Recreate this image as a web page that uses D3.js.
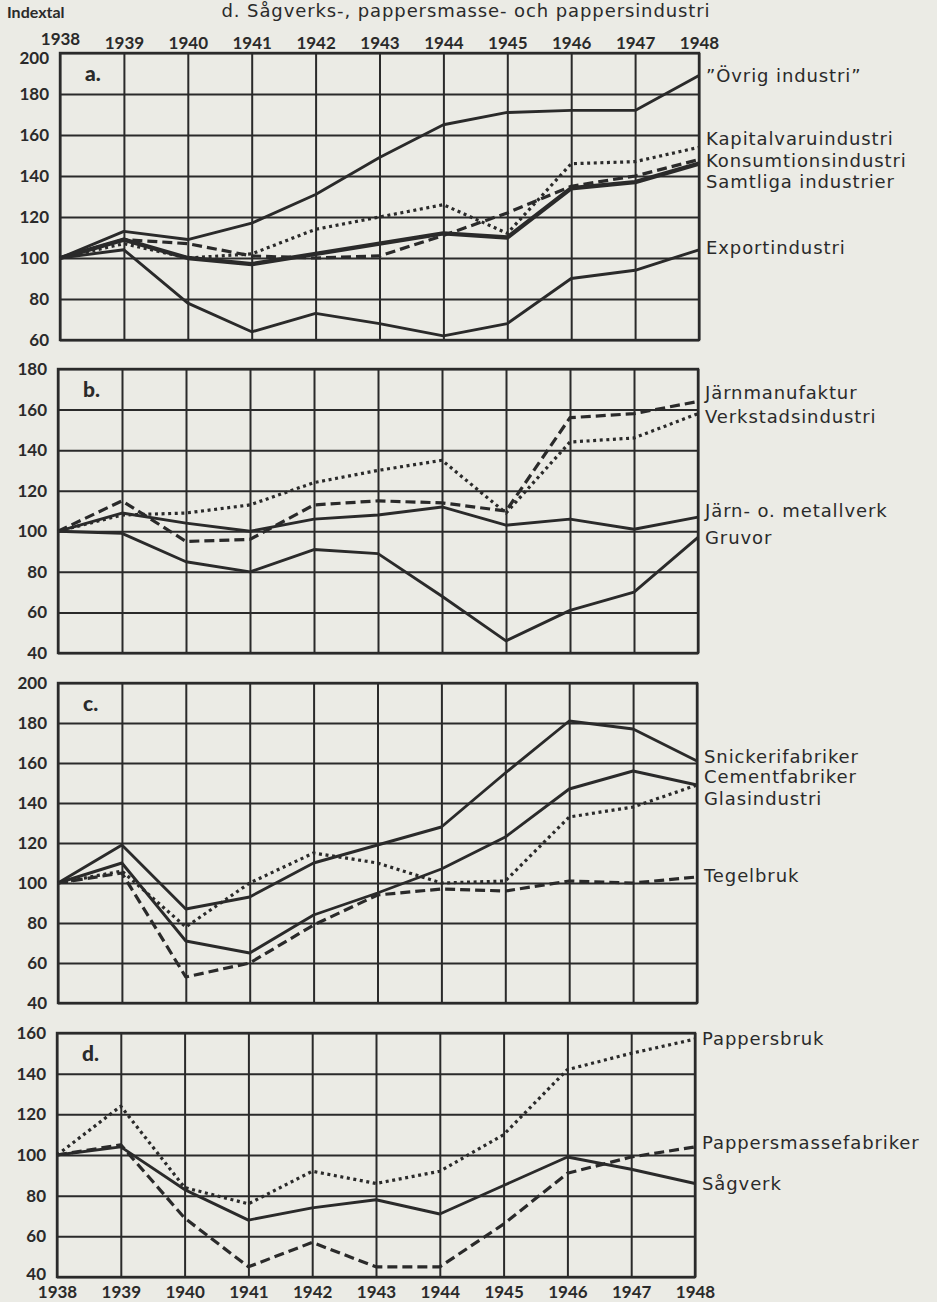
<!DOCTYPE html>
<html>
<head>
<meta charset="utf-8">
<script src="https://cdn.jsdelivr.net/npm/d3@7"></script>
<style>
  body { margin: 0; background: #ebebe5; }
  svg { display: block; }
  text { fill: #2a2a2a; }
</style>
</head>
<body>
<div id="chart"></div>
<script>
// years on the x axis
var years = [1938, 1939, 1940, 1941, 1942, 1943, 1944, 1945, 1946, 1947, 1948];

// panel a
var ovrigIndustri      = [100, 113, 109, 117, 131, 149, 165, 171, 172, 172, 189];
var kapitalvaruind     = [100, 107, 100, 102, 114, 120, 126, 112, 146, 147, 154];
var konsumtionsind     = [100, 109, 107, 101, 100, 101, 111, 122, 135, 140, 148];
var samtligaInd        = [100, 109, 100,  97, 102, 107, 112, 110, 134, 137, 146];
var exportindustri     = [100, 104,  78,  64,  73,  68,  62,  68,  90,  94, 104];

// panel b
var jarnmanufaktur     = [100, 115,  95,  96, 113, 115, 114, 110, 156, 158, 164];
var verkstadsind       = [100, 108, 109, 113, 124, 130, 135, 109, 144, 146, 158];
var jarnMetallverk     = [100, 109, 104, 100, 106, 108, 112, 103, 106, 101, 107];
var gruvor             = [100,  99,  85,  80,  91,  89,  68,  46,  61,  70,  97];

// panel c
var snickerifabriker   = [100, 119,  87,  93, 110, 119, 128, 155, 181, 177, 161];
var cementfabriker     = [100, 110,  71,  65,  84,  95, 107, 123, 147, 156, 149];
var glasindustri       = [100, 106,  78, 100, 115, 110, 100, 101, 133, 138, 149];
var tegelbruk          = [100, 105,  53,  60,  79,  94,  97,  96, 101, 100, 103];

// panel d
var pappersbruk        = [100, 124,  84,  76,  92,  86,  92, 110, 142, 150, 157];
var sagverk            = [100, 104,  83,  68,  74,  78,  71,  85,  99,  93,  86];
var pappersmassefabr   = [100, 105,  69,  45,  57,  45,  45,  66,  91,  99, 104];

var styles = {
    solid:  { width: 2.9, dash: null },
    thick:  { width: 4.4, dash: null },
    dashed: { width: 3.2, dash: "10,5" },
    dotted: { width: 3.2, dash: "3,3.6" }
};

var panels = [
    { tag: "a.", x0: 60, x1: 699, top: 53, bottom: 340, min: 60, max: 200,
      series: [
        { v: ovrigIndustri, s: "solid" },
        { v: kapitalvaruind, s: "dotted" },
        { v: konsumtionsind, s: "dashed" },
        { v: samtligaInd, s: "thick" },
        { v: exportindustri, s: "solid" }],
      labels: [
        ["\u201DÖvrig industri\u201D", 188.8],
        ["Kapitalvaruindustri", 158],
        ["Konsumtionsindustri", 147.3],
        ["Samtliga industrier", 137],
        ["Exportindustri", 105]] },
    { tag: "b.", x0: 58, x1: 698, top: 369, bottom: 653, min: 40, max: 180,
      series: [
        { v: jarnmanufaktur, s: "dashed" },
        { v: verkstadsind, s: "dotted" },
        { v: jarnMetallverk, s: "solid" },
        { v: gruvor, s: "solid" }],
      labels: [
        ["Järnmanufaktur", 168.5],
        ["Verkstadsindustri", 156.7],
        ["Järn- o. metallverk", 110.3],
        ["Gruvor", 97]] },
    { tag: "c.", x0: 58, x1: 697, top: 683, bottom: 1003, min: 40, max: 200,
      series: [
        { v: snickerifabriker, s: "solid" },
        { v: cementfabriker, s: "solid" },
        { v: glasindustri, s: "dotted" },
        { v: tegelbruk, s: "dashed" }],
      labels: [
        ["Snickerifabriker", 163],
        ["Cementfabriker", 153],
        ["Glasindustri", 142],
        ["Tegelbruk", 103.5]] },
    { tag: "d.", x0: 57, x1: 695, top: 1033, bottom: 1277, min: 40, max: 160,
      series: [
        { v: pappersbruk, s: "dotted" },
        { v: sagverk, s: "solid" },
        { v: pappersmassefabr, s: "dashed" }],
      labels: [
        ["Pappersbruk", 157],
        ["Pappersmassefabriker", 106],
        ["Sågverk", 86]] }
];

var ink = "#2a2a2a";
var svg = d3.select("#chart").append("svg").attr("width", 937).attr("height", 1302);

// header texts
svg.append("text").attr("x", 7).attr("y", 18)
    .style("font-family", "Lato").style("font-weight", "bold").style("font-size", "16px")
    .text("Indextal");
svg.append("text").attr("x", 466).attr("y", 17).attr("text-anchor", "middle")
    .style("font-family", "DejaVu Sans").style("font-size", "18px").style("letter-spacing", "0.9px")
    .text("d. Sågverks-, pappersmasse- och pappersindustri");

panels.forEach(function (p, i) {
    var x = d3.scaleLinear().domain([1938, 1948]).range([p.x0, p.x1]);
    var y = d3.scaleLinear().domain([p.min, p.max]).range([p.bottom, p.top]);
    var yTicks = d3.range(p.min, p.max + 1, 20);
    var g = svg.append("g");

    // horizontal grid + y labels
    var ya = g.append("g").attr("transform", "translate(" + p.x0 + ",0)")
        .call(d3.axisLeft(y).tickValues(yTicks).tickSize(-(p.x1 - p.x0)).tickPadding(11).tickFormat(d3.format("d")));
    ya.select(".domain").remove();
    ya.selectAll("line").attr("stroke", ink).attr("stroke-width", 2);
    ya.selectAll("text").attr("fill", ink).style("font-family", "Lato").style("font-weight", "bold").style("font-size", "17px");
    // top label of the first panel sits a bit lower, bottom label of the last a bit higher
    if (i === 0) ya.selectAll("text").filter(function (d) { return d === p.max; }).attr("dy", "0.6em");
    if (i === panels.length - 1) ya.selectAll("text").filter(function (d) { return d === p.min; }).attr("dy", "0.15em");

    // vertical grid
    var xa = g.append("g").attr("transform", "translate(0," + p.bottom + ")")
        .call(d3.axisBottom(x).tickValues(years).tickSize(-(p.bottom - p.top)).tickFormat(d3.format("d")));
    xa.select(".domain").remove();
    xa.selectAll("line").attr("stroke", ink).attr("stroke-width", 2);
    xa.selectAll("text").remove();

    // year labels on top of first panel and below last one
    if (i === 0) {
        var xt = g.append("g").attr("transform", "translate(0," + p.top + ")")
            .call(d3.axisTop(x).tickValues(years).tickSize(0).tickPadding(4).tickFormat(d3.format("d")));
        xt.select(".domain").remove();
        xt.selectAll("text").attr("fill", ink).style("font-family", "Lato").style("font-weight", "bold").style("font-size", "17px");
        xt.selectAll("text").filter(function (d) { return d === 1938; }).attr("dy", "-0.25em");
    }
    if (i === panels.length - 1) {
        var xb = g.append("g").attr("transform", "translate(0," + p.bottom + ")")
            .call(d3.axisBottom(x).tickValues(years).tickSize(0).tickPadding(9).tickFormat(d3.format("d")));
        xb.select(".domain").remove();
        xb.selectAll("text").attr("fill", ink).style("font-family", "Lato").style("font-weight", "bold").style("font-size", "17px");
    }

    g.append("rect").attr("x", p.x0).attr("y", p.top)
        .attr("width", p.x1 - p.x0).attr("height", p.bottom - p.top)
        .attr("fill", "none").attr("stroke", ink).attr("stroke-width", 2.4);

    // panel tag
    g.append("text").attr("x", p.x0 + 25).attr("y", p.top + 28)
        .style("font-family", "Lato").style("font-weight", "900").style("font-size", "21px")
        .text(p.tag);

    // series lines
    var line = d3.line()
        .x(function (d, k) { return x(years[k]); })
        .y(function (d) { return y(d); });
    p.series.forEach(function (s) {
        var st = styles[s.s];
        g.append("path").datum(s.v)
            .attr("d", line)
            .attr("fill", "none")
            .attr("stroke", ink)
            .attr("stroke-width", st.width)
            .attr("stroke-linejoin", "round")
            .attr("stroke-dasharray", st.dash);
    });

    // series names at right
    g.selectAll(".lab").data(p.labels).enter().append("text")
        .attr("x", p.x1 + 7)
        .attr("y", function (d) { return y(d[1]); })
        .attr("dy", "0.35em")
        .style("font-family", "DejaVu Sans").style("font-size", "18px").style("letter-spacing", "0.9px")
        .text(function (d) { return d[0]; });
});
</script>
</body>
</html>
